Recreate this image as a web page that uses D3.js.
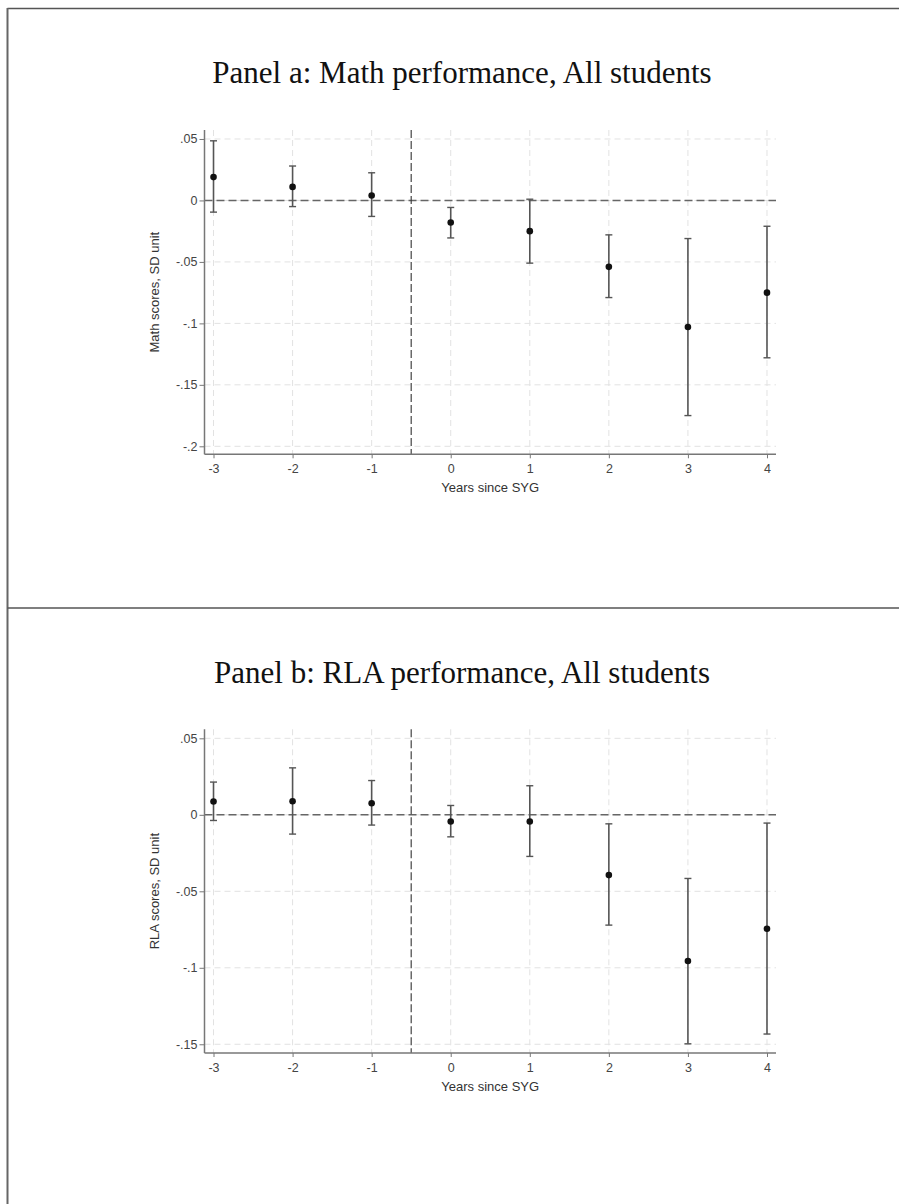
<!DOCTYPE html>
<html>
<head>
<meta charset="utf-8">
<script src="https://cdn.jsdelivr.net/npm/d3@7"></script>
<style>
  body { margin: 0; background: #fff; }
  .tick-label { font-family: "Liberation Sans", Arial, sans-serif; font-size: 12.5px; fill: #444; }
  .axis-title { font-family: "Liberation Sans", Arial, sans-serif; font-size: 13px; fill: #333; }
  .panel-title { font-family: "Liberation Serif", "Times New Roman", serif; font-size: 31px; fill: #111; }
</style>
</head>
<body>
<script>
let w = 899
let h = 1204

// event years
let years = [-3, -2, -1, 0, 1, 2, 3, 4]

// panel a: math
let mathEst = [0.019, 0.011, 0.004, -0.018, -0.025, -0.054, -0.103, -0.075]
let mathLo  = [-0.0095, -0.005, -0.013, -0.0305, -0.051, -0.079, -0.175, -0.128]
let mathHi  = [0.0485, 0.028, 0.0225, -0.0057, 0.001, -0.028, -0.031, -0.021]
let mathTicks = [0.05, 0, -0.05, -0.1, -0.15, -0.2]

// panel b: RLA
let rlaEst = [0.0087, 0.0089, 0.0076, -0.0044, -0.0044, -0.0394, -0.0956, -0.0745]
let rlaLo  = [-0.0037, -0.0126, -0.0067, -0.0144, -0.0272, -0.0721, -0.1497, -0.1433]
let rlaHi  = [0.0214, 0.0307, 0.0224, 0.0061, 0.019, -0.0059, -0.0416, -0.0054]
let rlaTicks = [0.05, 0, -0.05, -0.1, -0.15]

let panels = [
  {title: "Panel a: Math performance, All students", ylab: "Math scores, SD unit",
   est: mathEst, lo: mathLo, hi: mathHi, ticks: mathTicks,
   yDomain: [-0.2065, 0.0573], top: 130, bottom: 454.3, titleY: 83},
  {title: "Panel b: RLA performance, All students", ylab: "RLA scores, SD unit",
   est: rlaEst, lo: rlaLo, hi: rlaHi, ticks: rlaTicks,
   yDomain: [-0.1557, 0.0559], top: 729.3, bottom: 1053, titleY: 683}
]

let left = 204.5
let right = 776

let svg = d3.select("body").append("svg")
  .attr("width", w)
  .attr("height", h)

// frame lines
svg.append("line").attr("x1", 7.5).attr("x2", w).attr("y1", 8.5).attr("y2", 8.5)
  .attr("stroke", "#555").attr("stroke-width", 1.5)
svg.append("line").attr("x1", 7.5).attr("x2", 7.5).attr("y1", 8).attr("y2", h)
  .attr("stroke", "#666").attr("stroke-width", 2)
svg.append("line").attr("x1", 7.5).attr("x2", w).attr("y1", 608).attr("y2", 608)
  .attr("stroke", "#555").attr("stroke-width", 1.5)

// stata style: .05, -.1, plain hyphen
let fmt = (v)=>{
  return String(v).replace("0.", ".")
}

let x = d3.scaleLinear().domain([-3.114, 4.114]).range([left, right])

let drawPanel = (p)=>{
  let y = d3.scaleLinear().domain(p.yDomain).range([p.bottom, p.top])
  let g = svg.append("g")

  g.append("text")
    .attr("class", "panel-title")
    .attr("x", 462)
    .attr("y", p.titleY)
    .attr("text-anchor", "middle")
    .text(p.title)

  // grid
  g.selectAll(".ygrid").data(p.ticks).enter().append("line")
    .attr("x1", left).attr("x2", right)
    .attr("y1", (d)=> y(d)).attr("y2", (d)=> y(d))
    .attr("stroke", "#e2e2e2").attr("stroke-width", 1)
    .attr("stroke-dasharray", "6,4")
  g.selectAll(".xgrid").data(years).enter().append("line")
    .attr("x1", (d)=> x(d)).attr("x2", (d)=> x(d))
    .attr("y1", p.top).attr("y2", p.bottom)
    .attr("stroke", "#e2e2e2").attr("stroke-width", 1)
    .attr("stroke-dasharray", "6,4")

  // reference lines
  g.append("line")
    .attr("x1", left).attr("x2", right)
    .attr("y1", y(0)).attr("y2", y(0))
    .attr("stroke", "#666").attr("stroke-width", 1.6)
    .attr("stroke-dasharray", "8,4")
  g.append("line")
    .attr("x1", x(-0.5)).attr("x2", x(-0.5))
    .attr("y1", p.top).attr("y2", p.bottom)
    .attr("stroke", "#333").attr("stroke-width", 1.1)
    .attr("stroke-dasharray", "8,3")

  // axes
  let yAxis = d3.axisLeft(y).tickValues(p.ticks).tickSize(5).tickFormat(fmt)
  let ya = g.append("g").attr("transform", "translate(" + left + ",0)").call(yAxis)
  let xAxis = d3.axisBottom(x).tickValues(years).tickSize(4).tickFormat(fmt)
  let xa = g.append("g").attr("transform", "translate(0," + p.bottom + ")").call(xAxis)
  ;[ya, xa].forEach((a)=>{
    a.select(".domain").attr("stroke", "#777").attr("stroke-width", 1.5)
      .attr("d", a === ya ? "M0," + p.top + "V" + p.bottom : "M" + left + ",0H" + right)
    a.selectAll(".tick line").attr("stroke", "#777").attr("stroke-width", 1)
    a.selectAll(".tick text").attr("class", "tick-label").attr("fill", null)
  })
  ya.selectAll(".tick text").attr("x", -7)
  xa.selectAll(".tick text").attr("y", 10)

  g.append("text")
    .attr("class", "axis-title")
    .attr("x", (left + right) / 2)
    .attr("y", p.bottom + 38)
    .attr("text-anchor", "middle")
    .text("Years since SYG")
  g.append("text")
    .attr("class", "axis-title")
    .attr("transform", "translate(" + 156 + "," + ((p.top + p.bottom) / 2) + ") rotate(-90)")
    .attr("text-anchor", "middle")
    .attr("dominant-baseline", "middle")
    .text(p.ylab)

  // error bars
  let pts = years.map((yr, i)=>{
    return {yr: yr, est: p.est[i], lo: p.lo[i], hi: p.hi[i]}
  })
  let bars = g.selectAll(".bar").data(pts).enter().append("g")
  bars.append("line")
    .attr("x1", (d)=> x(d.yr)).attr("x2", (d)=> x(d.yr))
    .attr("y1", (d)=> y(d.lo)).attr("y2", (d)=> y(d.hi))
    .attr("stroke", "#555").attr("stroke-width", 1.6)
  bars.append("line")
    .attr("x1", (d)=> x(d.yr) - 3.5).attr("x2", (d)=> x(d.yr) + 3.5)
    .attr("y1", (d)=> y(d.hi)).attr("y2", (d)=> y(d.hi))
    .attr("stroke", "#555").attr("stroke-width", 1.4)
  bars.append("line")
    .attr("x1", (d)=> x(d.yr) - 3.5).attr("x2", (d)=> x(d.yr) + 3.5)
    .attr("y1", (d)=> y(d.lo)).attr("y2", (d)=> y(d.lo))
    .attr("stroke", "#555").attr("stroke-width", 1.4)
  bars.append("circle")
    .attr("cx", (d)=> x(d.yr)).attr("cy", (d)=> y(d.est))
    .attr("r", 3.3)
    .attr("fill", "#111")
}

panels.forEach(drawPanel)
</script>
</body>
</html>
